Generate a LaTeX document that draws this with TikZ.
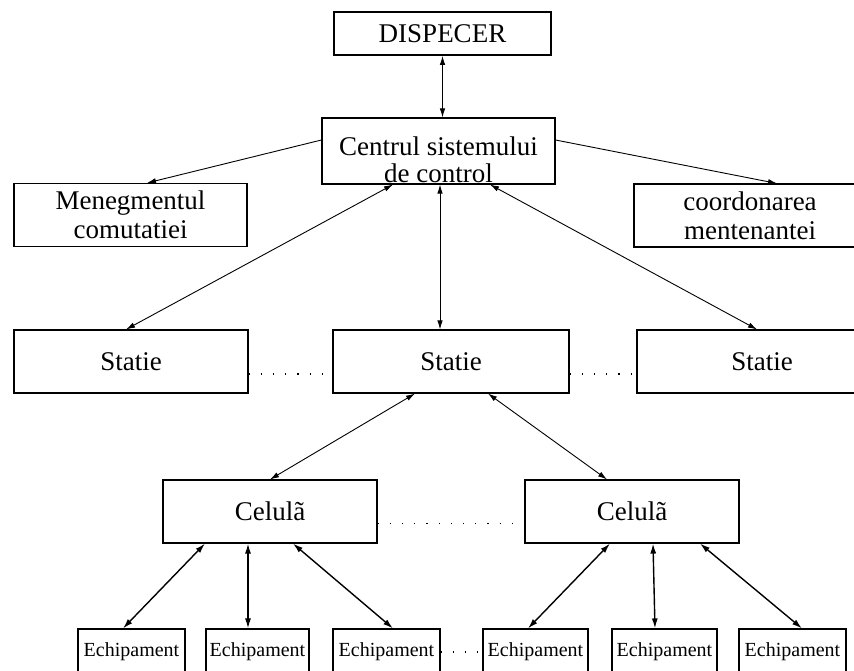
\documentclass[tikz,border=0pt]{standalone}
\usepackage{fontspec}
\setmainfont{Liberation Serif}
\usetikzlibrary{arrows.meta}

\begin{document}
\begin{tikzpicture}[x=1pt, y=-1pt,
  box/.style={draw, line width=1.1pt, inner sep=0pt, align=center, minimum height=63pt, font=\fontsize{27}{29}\selectfont},
  eqbox/.style={draw, line width=1.1pt, inner sep=0pt, minimum height=46pt, font=\fontsize{20}{22}\selectfont},
  link/.style={{Latex[length=9pt,width=5.5pt]}-{Latex[length=9pt,width=5.5pt]}, line width=0.9pt},
  onelink/.style={-{Latex[length=9pt,width=5.5pt]}, line width=0.9pt},
  lowlink/.style={{Latex[length=10pt,width=6pt]}-{Latex[length=10pt,width=6pt]}, line width=1.4pt},
  dots/.style={line width=1.1pt, dash pattern=on 1.2pt off 11pt}]
\useasboundingbox (0,0) rectangle (854,671);
\clip (0,0) rectangle (854,671);
\node[box, line width=1.8pt, minimum width=217pt, minimum height=43pt] (disp) at (442.5,33.5) {DISPECER};
\node[box, minimum width=233pt, minimum height=66pt, label={[align=center, font=\fontsize{27}{27}\selectfont, yshift=-9pt]center:{Centrul sistemului\\de control}}] (centru) at (438.5,151) {};
\node[box, minimum width=233pt] (meneg) at (130.5,215) {Menegmentul\\comutatiei};
\node[box, minimum width=232pt] (coord) at (750,215.5) {coordonarea\\mentenantei};
\node[box, minimum width=234pt] (statL) at (131,361.5) {Statie};
\node[box, minimum width=236pt] (statM) at (451,361.5) {Statie};
\node[box, minimum width=250pt] (statR) at (762,361.5) {Statie};
\node[box, minimum width=214pt] (celL) at (270,511.5) {Celulã};
\node[box, minimum width=214pt] (celR) at (632,511.5) {Celulã};
\node[eqbox, minimum width=107pt] (eq1) at (131.5,652) {Echipament};
\node[eqbox, minimum width=103pt] (eq2) at (257.5,652) {Echipament};
\node[eqbox, minimum width=107pt] (eq3) at (386.5,652) {Echipament};
\node[eqbox, minimum width=105pt] (eq4) at (535.5,652) {Echipament};
\node[eqbox, minimum width=105pt] (eq5) at (664.5,652) {Echipament};
\node[eqbox, minimum width=107pt] (eq6) at (792.5,652) {Echipament};
\draw[link] (disp.south) -- (disp.south |- centru.north);
\draw[onelink] ([yshift=11pt]centru.west) -- ([xshift=16.5pt]meneg.north);
\draw[onelink] ([yshift=11pt]centru.east) -- ([xshift=27pt]coord.north);
\draw[link] ([xshift=-45.5pt]centru.south) -- ([xshift=-5pt]statL.north);
\draw[link] ([xshift=1.5pt]centru.south) -- ([xshift=-11pt]statM.north);
\draw[link] ([xshift=51.5pt]centru.south) -- ([xshift=-5pt]statR.north);
\draw[link] ([xshift=-36pt]statM.south) -- (celL.north);
\draw[link] ([xshift=37pt]statM.south) -- ([xshift=-25pt]celR.north);
\draw[lowlink] ([xshift=-65pt]celL.south) -- ([xshift=-8.5pt]eq1.north);
\draw[lowlink] ([xshift=-22pt]celL.south) -- ([xshift=-9.5pt]eq2.north);
\draw[lowlink] ([xshift=23pt]celL.south) -- ([xshift=6.5pt]eq3.north);
\draw[lowlink] ([xshift=-22pt]celR.south) -- ([xshift=-7.5pt]eq4.north);
\draw[lowlink] ([xshift=21pt]celR.south) -- ([xshift=-9.5pt]eq5.north);
\draw[lowlink] ([xshift=68pt]celR.south) -- ([xshift=9.5pt]eq6.north);
\draw[dots] ([yshift=-12.5pt]statL.east) -- ([yshift=-12.5pt]statM.west);
\draw[dots] ([yshift=-12.5pt]statM.east) -- ([yshift=-12.5pt]statR.west);
\draw[dots] ([yshift=-12pt]celL.east) -- ([yshift=-12pt]celR.west);
\draw[dots] (eq3.east) -- (eq4.west);
\end{tikzpicture}
\end{document}
